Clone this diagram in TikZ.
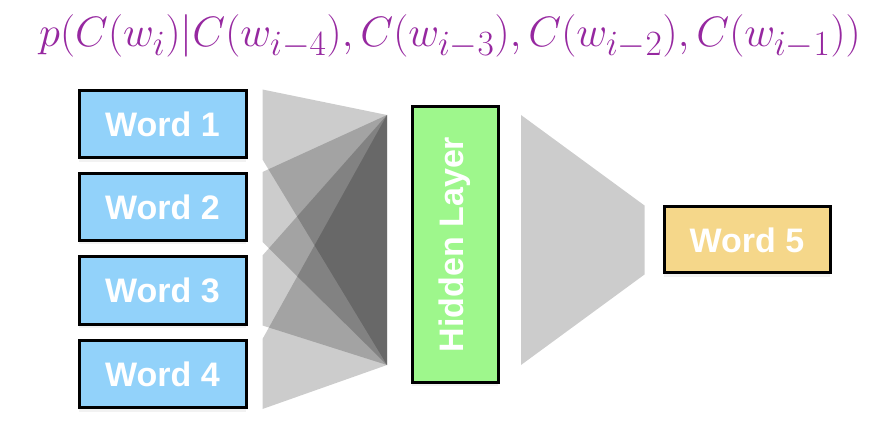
\documentclass[tikz,border=0pt]{standalone}
\usepackage{fontspec}
\newfontfamily\hv{Liberation Sans}
\usetikzlibrary{shadows}
\definecolor{wblue}{RGB}{146,210,250}
\definecolor{hgreen}{RGB}{158,247,140}
\definecolor{wyellow}{RGB}{245,215,138}
\definecolor{fpurple}{RGB}{150,40,160}
\tikzset{
  box/.style={draw=black, line width=3pt, font=\hv\bfseries\fontsize{34}{40}\selectfont,
    text=white, inner sep=0pt, drop shadow={opacity=0.1, shadow xshift=0pt, shadow yshift=-4pt}},
  wordbox/.style={box, fill=wblue, minimum width=167pt, minimum height=67pt},
  fan/.style={fill=black, fill opacity=0.2, draw=none}
}
\begin{document}
\begin{tikzpicture}[x=1pt,y=-1pt]
\useasboundingbox (0,0) rectangle (876,422);
\node[text=fpurple, anchor=base, scale=1.71, font=\fontsize{24.88}{30}\selectfont] (title) at (450,47)
  {$p(C(w_i)|C(w_{i-4}),C(w_{i-3}),C(w_{i-2}),C(w_{i-1}))$};
\node[wordbox] (w1) at (162.5,124.5) {Word 1};
\node[wordbox] (w2) at (162.5,207) {Word 2};
\node[wordbox] (w3) at (162.5,290.5) {Word 3};
\node[wordbox] (w4) at (162.5,374) {Word 4};
\node[box, fill=hgreen, minimum width=86pt, minimum height=275pt] (h) at (455,244.5) {};
\node[rotate=90, text=white, font=\hv\bfseries\fontsize{34}{40}\selectfont] (hl) at (h.center) {Hidden Layer};
\node[box, fill=wyellow, minimum width=166pt, minimum height=66pt] (w5) at (747,240) {Word 5};
% fan anchor points
\coordinate (ht) at (387,115);
\coordinate (hb) at (387,365);
\foreach \n in {1,2,3,4}{
  \fill[fan] ([xshift=15pt]w\n.north east) -- ([xshift=15pt]w\n.south east) -- (hb) -- (ht) -- cycle;
}
\coordinate (ot) at (521,115);
\coordinate (ob) at (521,365);
\fill[fan] (ot) -- (ob) -- ([xshift=-18pt]w5.south west) -- ([xshift=-18pt]w5.north west) -- cycle;
\end{tikzpicture}
\end{document}
